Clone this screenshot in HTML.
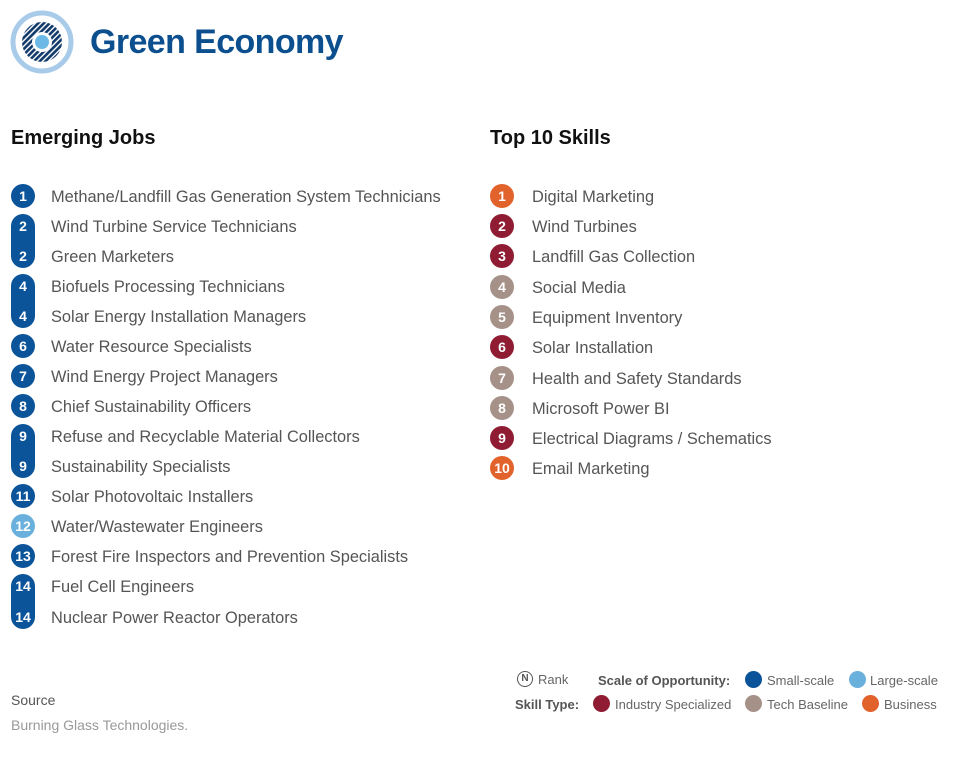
<!DOCTYPE html>
<html><head><meta charset="utf-8"><style>
body{margin:0;width:964px;height:764px;background:#fff;font-family:"Liberation Sans",Arial,sans-serif;position:relative;overflow:hidden}
.a{position:absolute}
.t{position:absolute;font-size:16.4px;color:#555;line-height:20px;white-space:nowrap;margin-top:1px}
.c{position:absolute;width:24px;height:24px;border-radius:12px;color:#fff;font-weight:bold;font-size:14px;text-align:center;line-height:24px}
.p{position:absolute;width:24px;border-radius:12px}
.n{position:absolute;width:24px;color:#fff;font-weight:bold;font-size:14px;text-align:center;line-height:24px}
.h{position:absolute;font-size:20px;font-weight:bold;color:#111}
.l{position:absolute;font-size:13px;color:#666;white-space:nowrap}
.d{position:absolute;width:17px;height:17px;border-radius:9px}
</style></head><body>
<svg class="a" style="left:10px;top:10px" width="64" height="64" viewBox="0 0 64 64">
<defs><pattern id="s" width="4" height="4" patternUnits="userSpaceOnUse" patternTransform="rotate(45)"><rect width="4" height="4" fill="#fff"/><rect width="2.6" height="4" fill="#123a6b"/></pattern></defs>
<circle cx="32" cy="32" r="29" fill="none" stroke="#a9cbea" stroke-width="5"/>
<circle cx="32" cy="32" r="20" fill="url(#s)"/>
<circle cx="32" cy="32" r="10" fill="#fff"/>
<circle cx="32" cy="32" r="7" fill="#6cb9e6"/>
</svg>
<div class="a" style="left:90px;top:23px;font-size:34px;font-weight:bold;color:#0b4f8f;letter-spacing:-0.6px">Green Economy</div>
<div class="h" style="left:11px;top:127px">Emerging Jobs</div>
<div class="h" style="left:490px;top:127px">Top 10 Skills</div>

<div class="c" style="left:11px;top:184px;background:#0b549a">1</div>
<div class="p" style="left:11px;top:214px;height:54px;background:#0b549a"></div><div class="n" style="left:11px;top:214px">2</div><div class="n" style="left:11px;top:244px">2</div>
<div class="p" style="left:11px;top:274px;height:54px;background:#0b549a"></div><div class="n" style="left:11px;top:274px">4</div><div class="n" style="left:11px;top:304px">4</div>
<div class="c" style="left:11px;top:334px;background:#0b549a">6</div>
<div class="c" style="left:11px;top:364px;background:#0b549a">7</div>
<div class="c" style="left:11px;top:394px;background:#0b549a">8</div>
<div class="p" style="left:11px;top:424px;height:54px;background:#0b549a"></div><div class="n" style="left:11px;top:424px">9</div><div class="n" style="left:11px;top:454px">9</div>
<div class="c" style="left:11px;top:484px;background:#0b549a">11</div>
<div class="c" style="left:11px;top:514px;background:#6ab0dc">12</div>
<div class="c" style="left:11px;top:544px;background:#0b549a">13</div>
<div class="p" style="left:11px;top:574px;height:55px;background:#0b549a"></div><div class="n" style="left:11px;top:574px">14</div><div class="n" style="left:11px;top:605px">14</div>

<div class="t" style="left:51px;top:186px">Methane/Landfill Gas Generation System Technicians</div>
<div class="t" style="left:51px;top:216px">Wind Turbine Service Technicians</div>
<div class="t" style="left:51px;top:246px">Green Marketers</div>
<div class="t" style="left:51px;top:276px">Biofuels Processing Technicians</div>
<div class="t" style="left:51px;top:306px">Solar Energy Installation Managers</div>
<div class="t" style="left:51px;top:336px">Water Resource Specialists</div>
<div class="t" style="left:51px;top:366px">Wind Energy Project Managers</div>
<div class="t" style="left:51px;top:396px">Chief Sustainability Officers</div>
<div class="t" style="left:51px;top:426px">Refuse and Recyclable Material Collectors</div>
<div class="t" style="left:51px;top:456px">Sustainability Specialists</div>
<div class="t" style="left:51px;top:486px">Solar Photovoltaic Installers</div>
<div class="t" style="left:51px;top:516px">Water/Wastewater Engineers</div>
<div class="t" style="left:51px;top:546px">Forest Fire Inspectors and Prevention Specialists</div>
<div class="t" style="left:51px;top:576px">Fuel Cell Engineers</div>
<div class="t" style="left:51px;top:607px">Nuclear Power Reactor Operators</div>

<div class="c" style="left:490px;top:184px;background:#e2622b">1</div>
<div class="c" style="left:490px;top:214px;background:#8f1c32">2</div>
<div class="c" style="left:490px;top:244px;background:#8f1c32">3</div>
<div class="c" style="left:490px;top:275px;background:#a59188">4</div>
<div class="c" style="left:490px;top:305px;background:#a59188">5</div>
<div class="c" style="left:490px;top:335px;background:#8f1c32">6</div>
<div class="c" style="left:490px;top:366px;background:#a59188">7</div>
<div class="c" style="left:490px;top:396px;background:#a59188">8</div>
<div class="c" style="left:490px;top:426px;background:#8f1c32">9</div>
<div class="c" style="left:490px;top:456px;background:#e2622b">10</div>
<div class="t" style="left:532px;top:186px">Digital Marketing</div>
<div class="t" style="left:532px;top:216px">Wind Turbines</div>
<div class="t" style="left:532px;top:246px">Landfill Gas Collection</div>
<div class="t" style="left:532px;top:277px">Social Media</div>
<div class="t" style="left:532px;top:307px">Equipment Inventory</div>
<div class="t" style="left:532px;top:337px">Solar Installation</div>
<div class="t" style="left:532px;top:368px">Health and Safety Standards</div>
<div class="t" style="left:532px;top:398px">Microsoft Power BI</div>
<div class="t" style="left:532px;top:428px">Electrical Diagrams / Schematics</div>
<div class="t" style="left:532px;top:458px">Email Marketing</div>

<div class="a" style="left:517px;top:671px;width:14px;height:14px;border:1.5px solid #555;border-radius:9px;font-size:10px;font-weight:bold;color:#555;text-align:center;line-height:14px">N</div>
<div class="l" style="left:538px;top:672px">Rank</div>
<div class="l" style="left:598px;top:673px;font-weight:bold;color:#555">Scale of Opportunity:</div>
<div class="d" style="left:745px;top:671px;background:#0b549a"></div>
<div class="l" style="left:767px;top:673px">Small-scale</div>
<div class="d" style="left:849px;top:671px;background:#6ab0dc"></div>
<div class="l" style="left:870px;top:673px">Large-scale</div>
<div class="l" style="left:515px;top:697px;font-weight:bold;color:#555">Skill Type:</div>
<div class="d" style="left:593px;top:695px;background:#8f1c32"></div>
<div class="l" style="left:615px;top:697px">Industry Specialized</div>
<div class="d" style="left:745px;top:695px;background:#a59188"></div>
<div class="l" style="left:767px;top:697px">Tech Baseline</div>
<div class="d" style="left:862px;top:695px;background:#e2622b"></div>
<div class="l" style="left:884px;top:697px">Business</div>

<div class="a" style="left:11px;top:692px;font-size:14px;color:#555">Source</div>
<div class="a" style="left:11px;top:717px;font-size:14px;color:#999">Burning Glass Technologies.</div>
</body></html>
